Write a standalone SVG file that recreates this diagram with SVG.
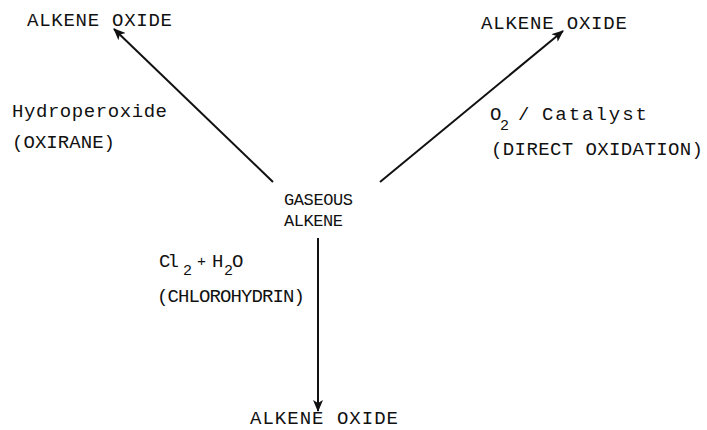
<svg xmlns="http://www.w3.org/2000/svg" width="707" height="430" viewBox="0 0 707 430">
<style>
text{font-family:"Liberation Mono","Courier New",monospace;fill:#111;}
.t{font-size:19px;}
.c{font-size:17px;}
.s{font-size:15px;}
.ln{stroke:#111;stroke-width:2;fill:none;marker-end:url(#ah);}
</style>
<defs>
<marker id="ah" viewBox="0 0 12 10" refX="11" refY="5" markerWidth="12" markerHeight="10" markerUnits="userSpaceOnUse" orient="auto">
<path d="M0,0 L12,5 L0,10 L3,5 Z" fill="#111"/>
</marker>
</defs>
<rect width="707" height="430" fill="#fff"/>
<g id="connectors">
<line class="ln" x1="273" y1="182" x2="114" y2="29"/>
<line class="ln" x1="380" y1="182" x2="563" y2="31"/>
<line class="ln" x1="318" y1="238" x2="318" y2="411"/>
</g>
<g id="center">
<text class="c" x="284" y="205" textLength="69" lengthAdjust="spacing">GASEOUS</text>
<text class="c" x="284" y="226" textLength="59" lengthAdjust="spacing">ALKENE</text>
</g>
<g id="product-left">
<text class="t" x="27" y="26" textLength="145" lengthAdjust="spacing">ALKENE OXIDE</text>
</g>
<g id="product-right">
<text class="t" x="481" y="29" textLength="146" lengthAdjust="spacing">ALKENE OXIDE</text>
</g>
<g id="product-bottom">
<text class="t" x="250" y="424" textLength="148" lengthAdjust="spacing">ALKENE OXIDE</text>
</g>
<g id="label-left">
<text class="t" x="12" y="117" textLength="155" lengthAdjust="spacing">Hydroperoxide</text>
<text class="t" x="12" y="148" textLength="103" lengthAdjust="spacing">(OXIRANE)</text>
</g>
<g id="label-right">
<text class="t" x="490" y="120">O</text>
<text class="s" x="500" y="130">2</text>
<text class="t" x="518" y="120">/</text>
<text class="t" x="542" y="120" textLength="105" lengthAdjust="spacing">Catalyst</text>
<text class="t" x="491" y="155" textLength="212" lengthAdjust="spacing">(DIRECT OXIDATION)</text>
</g>
<g id="label-bottom">
<text class="t" x="159" y="267" textLength="20" lengthAdjust="spacing">Cl</text>
<text class="s" x="183" y="275">2</text>
<text class="s" x="197" y="266">+</text>
<text class="t" x="212" y="267">H</text>
<text class="s" x="224" y="275">2</text>
<text class="t" x="232" y="267">O</text>
<text class="t" x="157" y="302" textLength="148" lengthAdjust="spacing">(CHLOROHYDRIN)</text>
</g>
</svg>
